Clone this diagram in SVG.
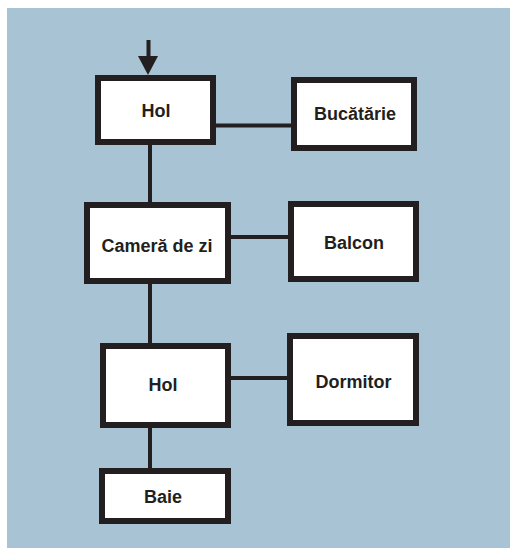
<svg xmlns="http://www.w3.org/2000/svg" width="510" height="548" viewBox="0 0 510 548">
<style>
.box{fill:#ffffff;stroke:#231f20;stroke-width:6}
.lbl{font-family:"Liberation Sans",Arial,sans-serif;font-weight:bold;font-size:18px;fill:#231f20;text-anchor:middle}
.con{stroke:#231f20;stroke-width:4;fill:none}
</style>
<rect x="7" y="8" width="503" height="540" fill="#a7c3d4"/>
<g id="connectors">
<line class="con" x1="148.5" y1="40" x2="148.5" y2="60"/>
<polygon points="138,56 158,56 148,75" fill="#231f20"/>
<line class="con" x1="150" y1="145" x2="150" y2="202"/>
<line class="con" x1="150" y1="284" x2="150" y2="343"/>
<line class="con" x1="150" y1="428" x2="150" y2="468"/>
<line class="con" x1="216" y1="125.5" x2="291" y2="125.5"/>
<line class="con" x1="231" y1="237" x2="288" y2="237"/>
<line class="con" x1="231" y1="378" x2="287" y2="378"/>
</g>
<g id="hol1"><rect class="box" x="98" y="78" width="115" height="64"/><text class="lbl" x="156" y="117">Hol</text></g>
<g id="bucatarie"><rect class="box" x="294" y="80" width="120" height="68"/><text class="lbl" x="355" y="120">Bucătărie</text></g>
<g id="camera"><rect class="box" x="87" y="205" width="141" height="76"/><text class="lbl" x="157" y="251.5">Cameră de zi</text></g>
<g id="balcon"><rect class="box" x="291" y="204" width="125" height="75"/><text class="lbl" x="354" y="248.5">Balcon</text></g>
<g id="hol2"><rect class="box" x="103" y="346" width="125" height="79"/><text class="lbl" x="163" y="391">Hol</text></g>
<g id="dormitor"><rect class="box" x="290" y="336" width="126" height="87"/><text class="lbl" x="353.5" y="388">Dormitor</text></g>
<g id="baie"><rect class="box" x="102" y="471" width="126" height="50"/><text class="lbl" x="163" y="503">Baie</text></g>
</svg>
